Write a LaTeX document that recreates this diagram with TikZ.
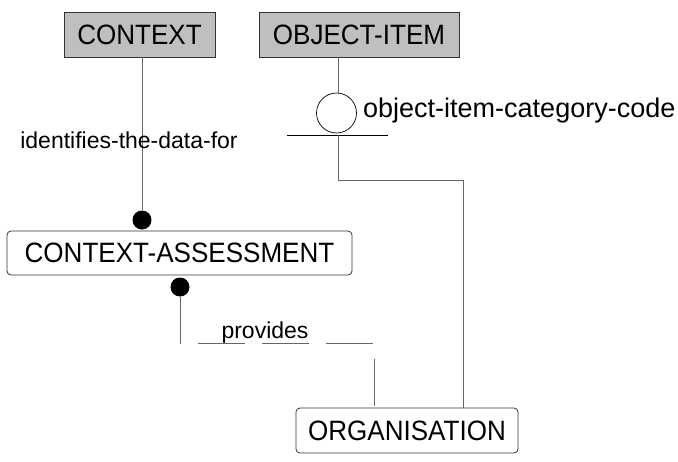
\documentclass[tikz,border=0pt]{standalone}
\usepackage{fontspec}
\setmainfont{Liberation Sans}
\newfontfamily\entfont{Liberation Sans}[FakeStretch=0.93]
\begin{document}
\begin{tikzpicture}[x=1pt, y=-1pt,
    ent/.style={draw=black!80, line width=.8pt, inner sep=0pt, minimum height=45pt,
        font=\entfont\fontsize{28}{30}\selectfont},
    kernel/.style={ent, fill=black!25},
    depend/.style={ent, rounded corners=4pt},
    rel/.style={draw=black!60, line width=.9pt},
    blob/.style={circle, fill=black, inner sep=0pt, minimum size=19pt},
    lbl/.style={font=\fontsize{23}{26}\selectfont, inner sep=0pt}]
\useasboundingbox (0, 0) rectangle (678, 461);
\node[kernel, minimum width=151pt] (ctx) at (139.5, 34.5) {CONTEXT};
\node[kernel, minimum width=200pt] (obj) at (359, 34.5) {OBJECT-ITEM};
\node[depend, minimum width=345pt, minimum height=44pt] (ctxa) at (179.5, 253) {CONTEXT-ASSESSMENT};
\node[depend, minimum width=222pt] (org) at (407, 430.5) {ORGANISATION};
\node[blob] (dota) at (142, 220) {};
\node[blob] (dotb) at (180, 287) {};
\node[circle, draw=black, fill=white, line width=.7pt, minimum size=40pt, inner sep=0pt] (catc) at (336.5, 113) {};
\coordinate (barl) at (287, 135);
\coordinate (barr) at (388, 135);
\coordinate (barm) at (338, 135);
\coordinate (elb) at (463, 180);
\coordinate (bend) at (374, 343);
\draw[rel] (dota) -- (dota |- ctx.south);
\node[lbl, anchor=base] (idf) at (129, 148) {identifies-the-data-for};
\draw[rel] (catc.north -| barm) -- (barm |- obj.south);
\draw[line width=.8pt] (barl) -- (barr);
\draw[rel] (barm) |- (elb) -- (elb |- org.north);
\node[lbl, anchor=base west, font=\fontsize{27}{30}\selectfont] (cat) at (363, 117) {object-item-category-code};
\draw[rel, dash pattern=on 47pt off 17pt] (dotb) |- (bend) -- (bend |- org.north);
\node[lbl, anchor=base] (prv) at (265, 338) {provides};
\end{tikzpicture}
\end{document}
